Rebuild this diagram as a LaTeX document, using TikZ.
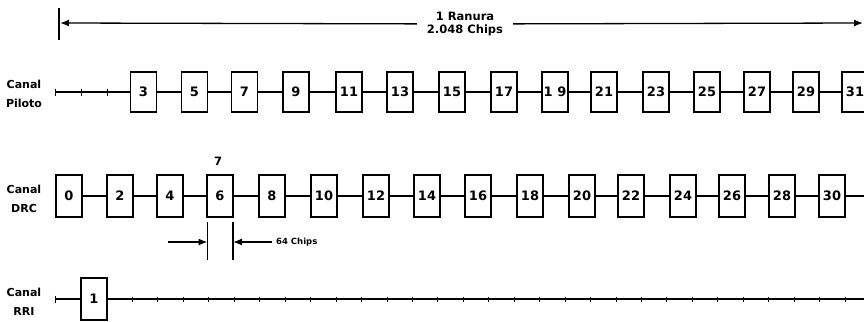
\documentclass[tikz,border=0pt]{standalone}
\usepackage{fontspec}
\setmainfont{DejaVu Sans}
\usetikzlibrary{arrows.meta}

\begin{document}
\begin{tikzpicture}[
  x=1pt, y=-1pt,
  font=\fontsize{11.5}{13}\selectfont\bfseries,
  slotbox/.style={rectangle, draw=black, line width=1.6pt, fill=white,
    minimum width=26pt, minimum height=#1, inner sep=0pt,
    font=\fontsize{13}{15}\selectfont\bfseries},
  pilotbox/.style={slotbox=40pt},
  drcbox/.style={slotbox=42pt},
  chanlabel/.style={align=center, font=\fontsize{11}{19}\selectfont\bfseries},
  wire/.style={line width=1.3pt, draw=black},
  tickmark/.style={line width=1pt, draw=black},
  arrow/.style={-{Latex[length=9pt,width=7pt]}, line width=1.3pt, draw=black}
]
\useasboundingbox (0,0) rectangle (864,321);

% slot ruler
\coordinate (barTop) at (59,8);
\coordinate (barBot) at (59,40);
\coordinate (slotL) at (60,23);
\coordinate (slotR) at (863,23);
\node[align=center, inner xsep=10pt, inner ysep=1pt] (ranura) at (465,24) {1 Ranura\\2.048 Chips};
\draw[line width=1.6pt] (barTop) -- (barBot);
\draw[arrow] (ranura) -- (slotL);
\draw[arrow] (ranura) -- (slotR);

% channel labels
\node[chanlabel] (lblpilot) at (24,94) {Canal\\Piloto};
\node[chanlabel] (lbldrc) at (24,199) {Canal\\DRC};
\node[chanlabel] (lblrri) at (24,302) {Canal\\RRI};

% pilot channel
\coordinate (pstart) at (55,92);
\node[pilotbox] (p3) at (143.5,92) {3};
\node[pilotbox] (p5) at (194.5,92) {5};
\node[pilotbox] (p7) at (244.5,92) {7};
\node[pilotbox] (p9) at (296,92) {9};
\node[pilotbox] (p11) at (349,92) {11};
\node[pilotbox] (p13) at (400,92) {13};
\node[pilotbox] (p15) at (452,92) {15};
\node[pilotbox] (p17) at (504,92) {17};
\node[pilotbox] (p19) at (555,92) {1 9};
\node[pilotbox] (p21) at (604,92) {21};
\node[pilotbox] (p23) at (656,92) {23};
\node[pilotbox] (p25) at (707,92) {25};
\node[pilotbox] (p27) at (757,92) {27};
\node[pilotbox] (p29) at (806,92) {29};
\node[pilotbox] (p31) at (855,92) {31};
\draw[wire] (pstart) -- (p3) -- (p5) -- (p7) -- (p9) -- (p11) -- (p13) -- (p15)
  -- (p17) -- (p19) -- (p21) -- (p23) -- (p25) -- (p27) -- (p29) -- (p31);
\foreach \x in {55,81,107}
  \draw[tickmark] (\x,88.5) -- (\x,95.5);

% DRC channel
\coordinate (dend) at (866,196);
\node[drcbox] (d0) at (69,196) {0};
\node[drcbox] (d2) at (120,196) {2};
\node[drcbox] (d4) at (170,196) {4};
\node[drcbox] (d6) at (220,196) {6};
\node[drcbox] (d8) at (272,196) {8};
\node[drcbox] (d10) at (324,196) {10};
\node[drcbox] (d12) at (376,196) {12};
\node[drcbox] (d14) at (427,196) {14};
\node[drcbox] (d16) at (478,196) {16};
\node[drcbox] (d18) at (530,196) {18};
\node[drcbox] (d20) at (582,196) {20};
\node[drcbox] (d22) at (631,196) {22};
\node[drcbox] (d24) at (683,196) {24};
\node[drcbox] (d26) at (732,196) {26};
\node[drcbox] (d28) at (782,196) {28};
\node[drcbox] (d30) at (832,196) {30};
\draw[wire] (d0) -- (d2) -- (d4) -- (d6) -- (d8) -- (d10) -- (d12) -- (d14)
  -- (d16) -- (d18) -- (d20) -- (d22) -- (d24) -- (d26) -- (d28) -- (d30) -- (dend);
\node (seven) at (218,161) {7};

% 64 chip dimension
\coordinate (dimLtop) at (207.5,222);
\coordinate (dimLbot) at (207.5,260);
\coordinate (dimRtop) at (233,222);
\coordinate (dimRbot) at (233,260);
\coordinate (dimL) at (207.5,242);
\coordinate (dimR) at (233,242);
\coordinate (dimStart) at (168,242);
\draw[wire] (dimLtop) -- (dimLbot);
\draw[wire] (dimRtop) -- (dimRbot);
\node[anchor=west, inner xsep=4pt, font=\fontsize{8.5}{10}\selectfont\bfseries] (chips) at (272,242) {64 Chips};
\draw[arrow] (dimStart) -- (dimL);
\draw[arrow] (chips) -- (dimR);

% RRI channel
\coordinate (rstart) at (55,299);
\coordinate (rend) at (866,299);
\node[drcbox] (r1) at (94,299) {1};
\draw[wire] (rstart) -- (r1) -- (rend);
\draw[tickmark] (55,295.5) -- (55,302.5);
\foreach \k in {0,...,28}
  \draw[tickmark] ({132.5+25.45*\k},296.5) -- ({132.5+25.45*\k},301.5);

\end{tikzpicture}
\end{document}
